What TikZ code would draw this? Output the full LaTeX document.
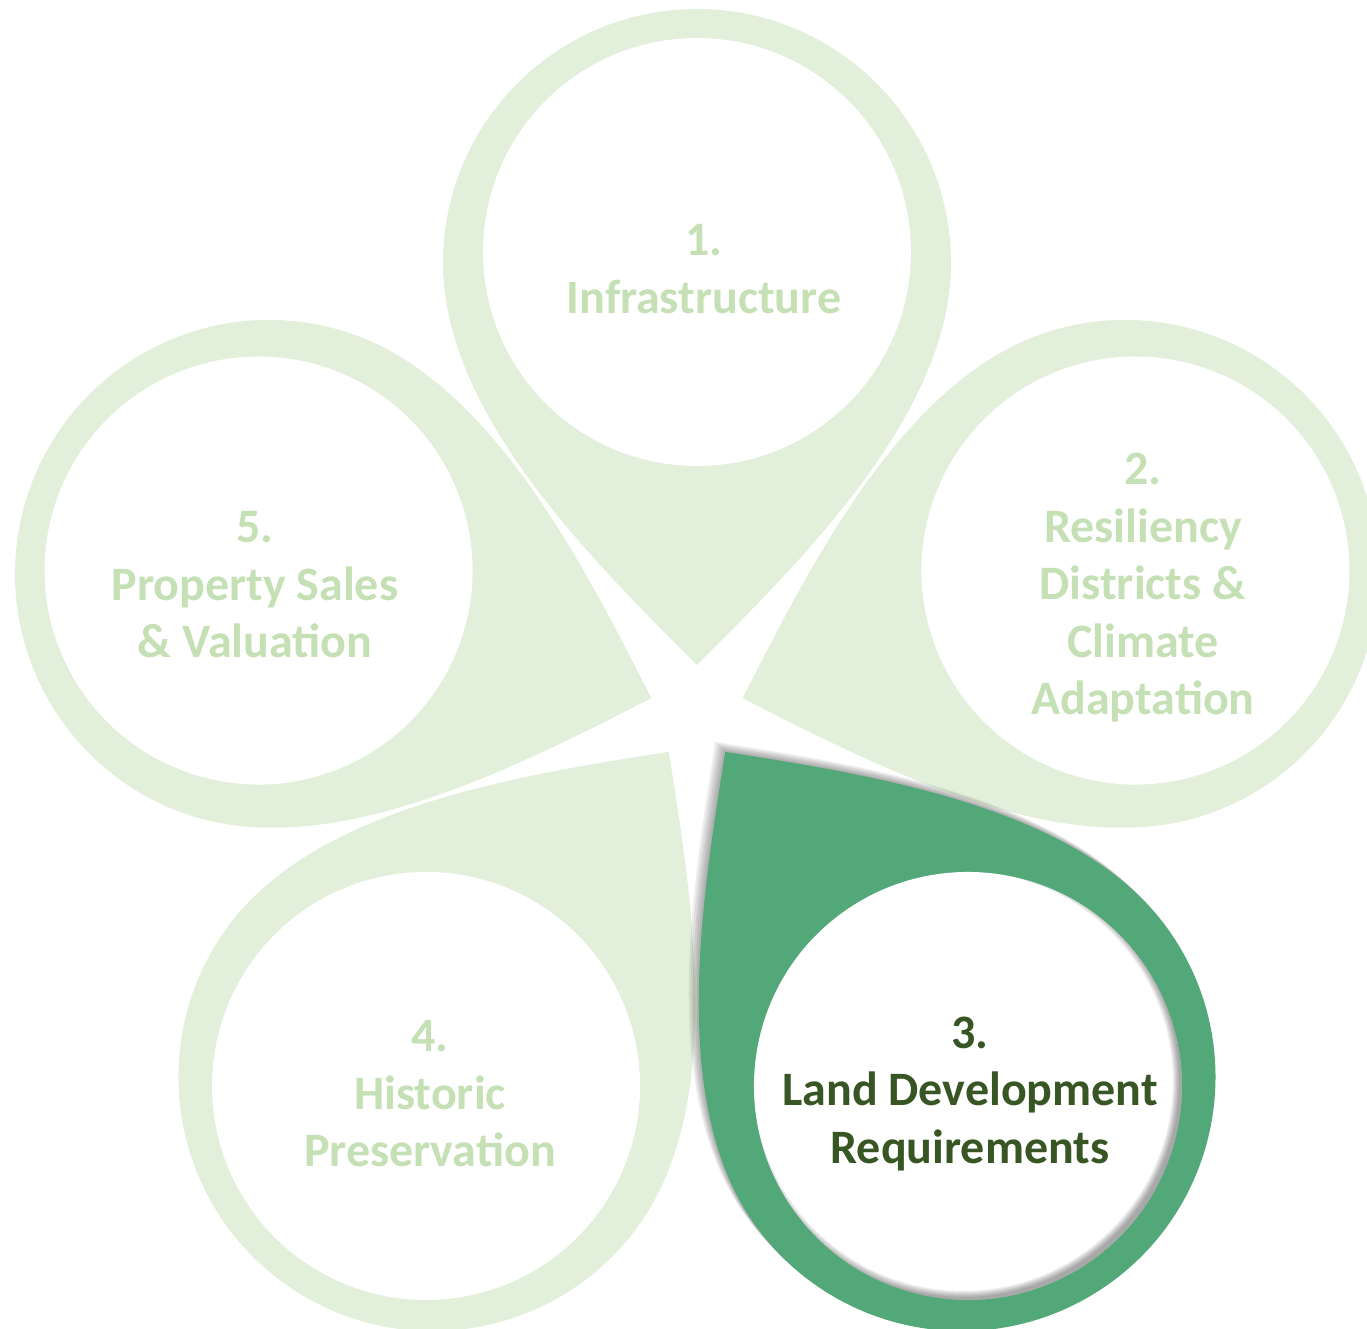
\documentclass[tikz,border=0pt]{standalone}
\usepackage{fontspec}
\setmainfont{Carlito}
\definecolor{petalfill}{HTML}{E2EFDA}
\definecolor{petallabel}{HTML}{C5E0B4}
\definecolor{activefill}{HTML}{52A878}
\definecolor{activelabel}{HTML}{375623}
\tikzset{
  dropedge/.pic={\path[pic actions] (0,-402) .. controls (-106,-296) and (-254,-150) .. (-254,0)
      arc[start angle=180,end angle=0,radius=254] .. controls (254,-150) and (106,-296) .. (0,-402) -- cycle;},
  drophole/.pic={\path[pic actions] (0,11) circle[radius=214];},
  petaltext/.style={font=\bfseries\fontsize{24}{28.75}\selectfont, text=petallabel, align=center}
}

\begin{document}
\begin{tikzpicture}[x=0.5pt,y=0.5pt]
        % 画布范围
        \useasboundingbox (-697,-616) rectangle (670,713);
        % 四个浅色水滴
        \foreach \ang/\rot in {90/0,18/-72,-126/-216,162/72}{
            \pic[fill=petalfill, rotate=\rot] at (\ang:450) {dropedge};
            \pic[fill=white, rotate=\rot] at (\ang:450) {drophole};
        }
        % 第三个水滴的阴影
        \foreach \s in {2,4,6,8,10}
            \pic[fill=black, fill opacity=0.07, rotate=-144] at ([shift={(-\s,\s)}]-54:450) {dropedge};
        % 第三个水滴
        \pic[fill=activefill, rotate=-144] at (-54:450) {dropedge};
        \pic[fill=white, rotate=-144] at (-54:450) {drophole};
        % 内圆阴影
        \coordinate (hole) at (-54:461);
        \begin{scope}
            \clip (hole) circle[radius=214];
            \foreach \r in {216,214.5,213,211.5,210}
                \fill[black, opacity=0.08, even odd rule] ([shift={(-5,5)}]hole) circle[radius=260] ([shift={(-5,5)}]hole) circle[radius=\r];
        \end{scope}
        % 文字
        \node[petaltext] (infra) at (7,444) {1.\\Infrastructure};
        \node[petaltext] (resil) at (446,125) {2.\\Resiliency\\Districts \&\\Climate\\Adaptation};
        \node[petaltext, text=activelabel] (landdev) at (273,-381) {3.\\Land Development\\Requirements};
        \node[petaltext] (historic) at (-267,-381) {4.\\Historic\\Preservation};
        \node[petaltext] (property) at (-442,128) {5.\\Property Sales\\\& Valuation};
    \end{tikzpicture}
\end{document}
